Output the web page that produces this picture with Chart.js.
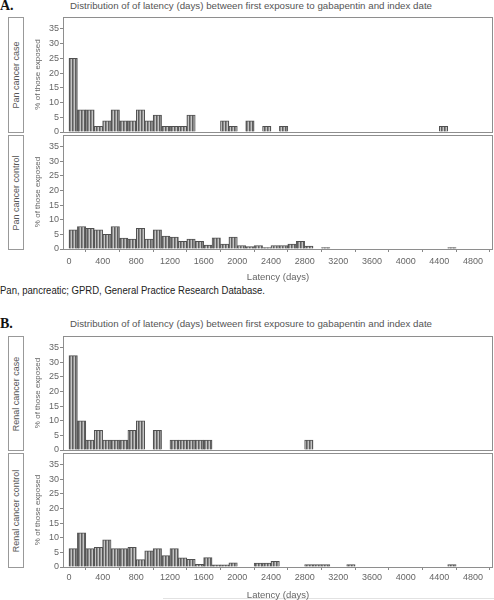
<!DOCTYPE html>
<html><head><meta charset="utf-8">
<script src="https://cdn.jsdelivr.net/npm/chart.js@4.4.0/dist/chart.umd.min.js"></script>
<style>
html,body{margin:0;padding:0;background:#fff;width:494px;height:600px;overflow:hidden;position:relative;font-family:'Liberation Sans',Arial,sans-serif;}
canvas{position:absolute;left:0;}
.t{position:absolute;white-space:nowrap;transform-origin:0 0;}
.lab{position:absolute;left:0;font-family:'Liberation Serif','Times New Roman',serif;font-weight:bold;font-size:14px;line-height:14px;color:#111;}
.ttl{font-size:9px;line-height:10px;color:#555;}
.box{position:absolute;left:8px;width:16px;border:1px solid #999;box-sizing:border-box;}
.box span{position:absolute;left:50%;top:50%;transform:translate(-50%,-50%) rotate(-90deg);white-space:nowrap;font-size:9px;line-height:10px;color:#555;}
</style></head>
<body>
<div class="lab" style="top:-1px">A.</div>
<div class="t ttl" id="titleA" style="left:70px;top:1px">Distribution of of latency (days) between first exposure to gabapentin and index date</div>
<div class="box" style="top:17px;height:116px"><span>Pan cancer case</span></div>
<div class="box" style="top:135px;height:115px"><span>Pan cancer control</span></div>
<div class="t" id="foot" style="left:0;top:285px;font-size:10px;line-height:12px;color:#222">Pan, pancreatic; GPRD, General Practice Research Database.</div>
<div class="lab" style="top:317px">B.</div>
<div class="t ttl" id="titleB" style="left:70px;top:319px">Distribution of of latency (days) between first exposure to gabapentin and index date</div>
<div class="box" style="top:336px;height:115px"><span>Renal cancer case</span></div>
<div class="box" style="top:453px;height:115px"><span>Renal cancer control</span></div>
<div style="position:absolute;left:163px;top:598px;width:331px;height:1px;background:#e2e2e2"></div>
<canvas id="c1" width="494" height="131" style="top:9px"></canvas>
<canvas id="c2" width="494" height="158" style="top:127px"></canvas>
<canvas id="c3" width="494" height="130" style="top:328px"></canvas>
<canvas id="c4" width="494" height="158" style="top:445px"></canvas>
<script>
// Bin centres (100-day bins) for latency in days
const binCenters = [50,150,250,350,450,550,650,750,850,950,
  1050,1150,1250,1350,1450,1550,1650,1750,1850,1950,
  2050,2150,2250,2350,2450,2550,2650,2750,2850,2950,
  3050,3150,3250,3350,3450,3550,3650,3750,3850,3950,
  4050,4150,4250,4350,4450,4550,4650,4750,4850,4950];
const xTickValues = [0,400,800,1200,1600,2000,2400,2800,3200,3600,4000,4400,4800];
const yTickValues = [0,5,10,15,20,25,30,35];

// % of those exposed, per bin
const panCase = [25.0,7.5,7.5,1.9,3.8,7.5,3.8,3.8,7.5,3.8,
  5.7,1.9,1.9,1.9,5.7,0,0,0,3.8,1.9,
  0,3.8,0,1.9,0,1.9,0,0,0,0,
  0,0,0,0,0,0,0,0,0,0,
  0,0,0,0,1.9,0,0,0,0,0];
const panControl = [6.6,7.7,7.1,6.6,5.0,7.7,3.7,3.4,7.1,3.4,
  6.6,4.4,4.1,2.6,3.4,2.6,1.3,3.8,1.7,4.1,
  1.2,0.8,1.2,0.5,1.2,1.2,1.7,2.6,1.0,0,
  0.5,0,0,0,0,0,0,0,0,0,
  0,0,0,0,0,0.5,0,0,0,0];
const renalCase = [32.3,10.0,3.4,6.7,3.4,3.4,3.4,6.7,10.0,0,
  6.7,0,3.4,3.4,3.4,3.4,3.4,0,0,0,
  0,0,0,0,0,0,0,0,3.4,0,
  0,0,0,0,0,0,0,0,0,0,
  0,0,0,0,0,0,0,0,0,0];
const renalControl = [6.3,11.7,6.3,6.7,9.3,6.3,6.3,6.7,2.5,5.5,
  6.3,3.9,6.3,3.1,2.6,0.9,3.2,0.7,0.7,1.4,
  0,0,1.3,1.3,1.9,0,0,0,0.8,0.8,
  0.8,0,0,0.8,0,0,0,0,0,0,
  0,0,0,0,0,0.8,0,0,0,0];

const FAM = "'Liberation Sans', Arial, sans-serif";

const framePlugin = {
  id: 'frame',
  afterDatasetsDraw(chart) {
    const {ctx, chartArea: a} = chart;
    ctx.save();
    ctx.strokeStyle = '#8e8e8e';
    ctx.lineWidth = 1;
    ctx.strokeRect(Math.round(a.left) + 0.5, Math.round(a.top) + 0.5,
      Math.round(a.right - a.left) - 1, Math.round(a.bottom - a.top));
    ctx.restore();
  }
};

function stripes(canvas) {
  const p = document.createElement('canvas');
  p.width = 3; p.height = 1;
  const g = p.getContext('2d');
  ['#5e5e5e', '#8c8c8c', '#c4c4c4'].forEach((c, i) => { g.fillStyle = c; g.fillRect(i, 0, 1, 1); });
  return canvas.getContext('2d').createPattern(p, 'repeat');
}

function makeChart(id, values, showX, tickPad) {
  const canvas = document.getElementById(id);
  const xScale = {
    type: 'linear', min: -71, max: 5038, offset: false, display: showX,
    afterBuildTicks: s => { s.ticks = xTickValues.map(v => ({value: v})); },
    grid: {display: true, drawOnChartArea: false, drawTicks: true, tickLength: 3, color: '#888'},
    border: {display: false},
    ticks: {padding: tickPad, color: '#666', font: {family: FAM, size: 9}, maxRotation: 0, autoSkip: false,
      callback: v => String(v)},
    title: {display: true, text: 'Latency (days)', color: '#666', font: {family: FAM, size: 9.5}, padding: {top: 0, bottom: 2}}
  };
  if (showX) xScale.afterFit = s => { s.height = 36; };
  return new Chart(canvas, {
    type: 'bar',
    data: {
      datasets: [{
        data: binCenters.map((x, i) => ({x: x, y: values[i]})),
        backgroundColor: stripes(canvas),
        borderColor: '#505050',
        borderWidth: 1,
        barPercentage: 1,
        categoryPercentage: 1
      }]
    },
    options: {
      responsive: false,
      animation: false,
      events: [],
      layout: {padding: {left: 28, right: 1, top: 8, bottom: showX ? 0 : 8}},
      plugins: {legend: {display: false}, tooltip: {enabled: false}},
      scales: {
        x: xScale,
        y: {
          min: 0, max: 39,
          afterBuildTicks: s => { s.ticks = yTickValues.map(v => ({value: v})); },
          afterFit: s => { s.width = 35; },
          grid: {display: true, drawOnChartArea: false, drawTicks: true, tickLength: 3, color: '#888'},
          border: {display: false},
          ticks: {padding: 1, color: '#666', font: {family: FAM, size: 9}, callback: v => String(v)},
          title: {display: true, text: '% of those exposed', color: '#666', font: {family: FAM, size: 8}, padding: {top: 5, bottom: 0}}
        }
      }
    },
    plugins: [framePlugin]
  });
}

makeChart('c1', panCase, false, 0);
makeChart('c2', panControl, true, 4);
makeChart('c3', renalCase, false, 0);
makeChart('c4', renalControl, true, 2);

function fit(id, w) {
  const el = document.getElementById(id);
  const cur = el.getBoundingClientRect().width;
  el.style.transform = 'scaleX(' + (w / cur) + ')';
}
fit('titleA', 362);
fit('titleB', 362);
fit('foot', 265);
</script>
</body></html>
